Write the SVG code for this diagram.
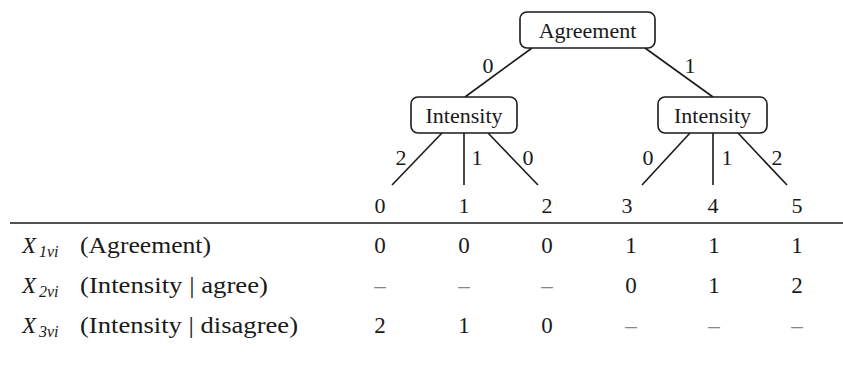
<svg xmlns="http://www.w3.org/2000/svg" width="843" height="367" viewBox="0 0 843 367">
<style>
.box{fill:#fff;stroke:#1a1a1a;stroke-width:1.6}
.ln{stroke:#1a1a1a;stroke-width:1.6;fill:none}
.t{font-family:"Liberation Serif","DejaVu Serif",serif;font-size:22px;fill:#1a1a1a}
.c{text-anchor:middle}
.r{font-family:"Liberation Serif","DejaVu Serif",serif;font-size:23px;fill:#1a1a1a}
.x{font-style:italic}
.s{font-style:italic;font-size:16px}
.d{fill:#888}
</style>
<rect width="843" height="367" fill="#fff"/>
<g id="connectors">
<line class="ln" x1="532" y1="48" x2="465" y2="97"/>
<line class="ln" x1="645" y1="48" x2="713" y2="97"/>
<line class="ln" x1="442" y1="133" x2="392" y2="185"/>
<line class="ln" x1="464" y1="133" x2="464" y2="185"/>
<line class="ln" x1="488" y1="133" x2="538" y2="185"/>
<line class="ln" x1="690" y1="133" x2="642" y2="185"/>
<line class="ln" x1="713" y1="133" x2="713" y2="185"/>
<line class="ln" x1="738" y1="133" x2="787" y2="185"/>
<text class="t c" x="488" y="73">0</text>
<text class="t c" x="690" y="73">1</text>
<text class="t c" x="401" y="165">2</text>
<text class="t c" x="477" y="165">1</text>
<text class="t c" x="528" y="165">0</text>
<text class="t c" x="648" y="165">0</text>
<text class="t c" x="727" y="165">1</text>
<text class="t c" x="777" y="165">2</text>
</g>
<g id="agreement">
<rect class="box" x="520" y="12" width="135" height="36" rx="7"/>
<text class="t c" x="587.5" y="38">Agreement</text>
</g>
<g id="intensity-left">
<rect class="box" x="411" y="97" width="106" height="36" rx="7"/>
<text class="t c" x="464" y="123">Intensity</text>
</g>
<g id="intensity-right">
<rect class="box" x="658" y="97" width="109" height="36" rx="7"/>
<text class="t c" x="712.5" y="123">Intensity</text>
</g>
<g id="leaves">
<text class="t c" x="380" y="213">0</text>
<text class="t c" x="464" y="213">1</text>
<text class="t c" x="547" y="213">2</text>
<text class="t c" x="627" y="213">3</text>
<text class="t c" x="713" y="213">4</text>
<text class="t c" x="797" y="213">5</text>
</g>
<g id="table">
<line class="ln" x1="10" y1="223" x2="843" y2="223"/>
<text class="r" x="22" y="253"><tspan class="x">X</tspan><tspan class="s" x="39" dy="4">1vi</tspan></text>
<text class="r" x="80" y="253" textLength="131" lengthAdjust="spacingAndGlyphs">(Agreement)</text>
<text class="r" x="22" y="293"><tspan class="x">X</tspan><tspan class="s" x="39" dy="4">2vi</tspan></text>
<text class="r" x="80" y="293" textLength="188" lengthAdjust="spacingAndGlyphs">(Intensity | agree)</text>
<text class="r" x="22" y="333"><tspan class="x">X</tspan><tspan class="s" x="39" dy="4">3vi</tspan></text>
<text class="r" x="80" y="333" textLength="218" lengthAdjust="spacingAndGlyphs">(Intensity | disagree)</text>
<text class="r c" x="380" y="253">0</text>
<text class="r c" x="464" y="253">0</text>
<text class="r c" x="547" y="253">0</text>
<text class="r c" x="631" y="253">1</text>
<text class="r c" x="714" y="253">1</text>
<text class="r c" x="797" y="253">1</text>
<text class="r c d" x="380" y="293">–</text>
<text class="r c d" x="464" y="293">–</text>
<text class="r c d" x="547" y="293">–</text>
<text class="r c" x="631" y="293">0</text>
<text class="r c" x="714" y="293">1</text>
<text class="r c" x="797" y="293">2</text>
<text class="r c" x="380" y="333">2</text>
<text class="r c" x="464" y="333">1</text>
<text class="r c" x="547" y="333">0</text>
<text class="r c d" x="631" y="333">–</text>
<text class="r c d" x="714" y="333">–</text>
<text class="r c d" x="797" y="333">–</text>
</g>
</svg>
